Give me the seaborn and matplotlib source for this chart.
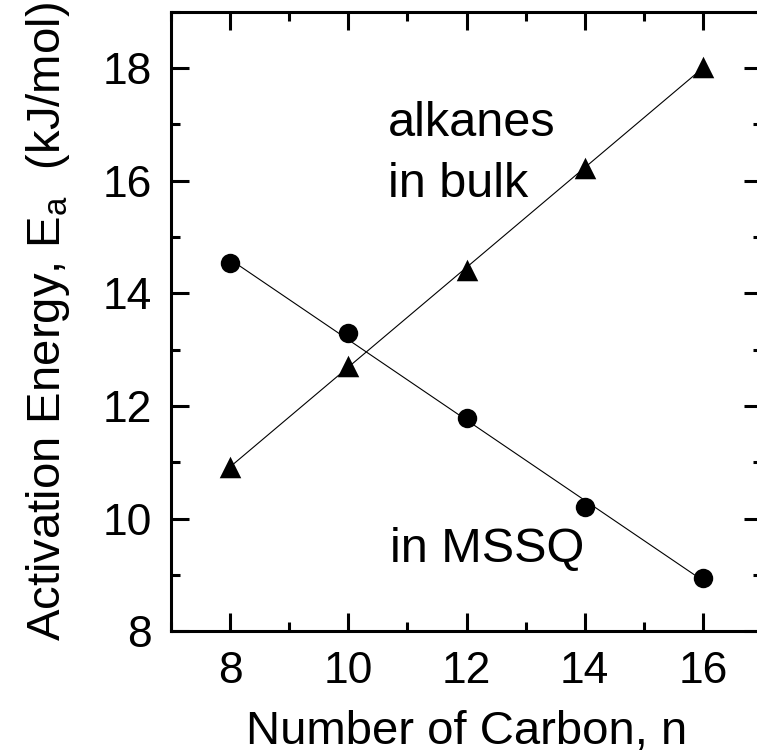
import matplotlib
matplotlib.use("Agg")
import matplotlib.pyplot as plt
from matplotlib.ticker import MultipleLocator
import pandas as pd
import seaborn as sns

# Activation energy vs. alkane chain length
carbon_number = [8, 10, 12, 14, 16]
ea_bulk = [10.92, 12.71, 14.42, 16.23, 18.01]   # alkanes in bulk
ea_mssq = [14.53, 13.29, 11.78, 10.20, 8.95]    # alkanes in MSSQ

x_ticks = [8, 10, 12, 14, 16]
y_ticks = [8, 10, 12, 14, 16, 18]

sns.set_style("ticks")
plt.rcParams["font.family"] = ["Liberation Sans", "DejaVu Sans"]
plt.rcParams["mathtext.fontset"] = "custom"
plt.rcParams["mathtext.rm"] = "Liberation Sans"
plt.rcParams["mathtext.it"] = "Liberation Sans"
plt.rcParams["text.color"] = "black"
plt.rcParams["axes.labelcolor"] = "black"

df = pd.DataFrame({"n": carbon_number, "bulk": ea_bulk, "mssq": ea_mssq})

W, H = 757, 756
fig = plt.figure(figsize=(W / 100, H / 100), dpi=100)
ax = fig.add_axes([171 / W, 1 - 631.3 / H, (762 - 171) / W, (631.3 - 11.5) / H])

line_kws = {"lw": 0.8, "color": "black"}
sns.regplot(data=df, x="n", y="bulk", ci=None, marker="^", color="black",
            scatter_kws={"s": 15.5 ** 2, "linewidths": 0, "alpha": 1},
            line_kws=line_kws, ax=ax)
sns.regplot(data=df, x="n", y="mssq", ci=None, marker="o", color="black",
            scatter_kws={"s": 14 ** 2, "linewidths": 0, "alpha": 1},
            line_kws=line_kws, ax=ax)

ax.set_xlim(7, 17)
ax.set_ylim(8, 19)
ax.set_xticks(x_ticks)
ax.set_yticks(y_ticks)
ax.xaxis.set_minor_locator(MultipleLocator(1))
ax.yaxis.set_minor_locator(MultipleLocator(1))

for side in ["left", "right", "top", "bottom"]:
    ax.spines[side].set_visible(True)
    ax.spines[side].set_linewidth(2.2)
    ax.spines[side].set_color("black")

ax.tick_params(which="both", direction="in", top=True, right=True,
               width=2.2, color="black")
ax.tick_params(which="major", length=13, labelsize=32, labelcolor="black")
ax.tick_params(axis="x", which="major", pad=14)
ax.tick_params(axis="y", which="major", pad=14)
ax.tick_params(which="minor", length=6.5)

ax.set_xlabel("Number of Carbon, n", fontsize=34, labelpad=13, color="black")
ax.set_ylabel(r"Activation Energy, E$_{\mathrm{a}}$  (kJ/mol)", fontsize=34,
              labelpad=22, color="black")

ax.text(10.67, 16.79, "alkanes", fontsize=35, ha="left", va="baseline",
        color="black")
ax.text(10.67, 15.71, "in bulk", fontsize=35, ha="left", va="baseline",
        color="black")
ax.text(10.70, 9.235, "in MSSQ", fontsize=35, ha="left", va="baseline",
        color="black")

fig.savefig("out.png", dpi=100)
